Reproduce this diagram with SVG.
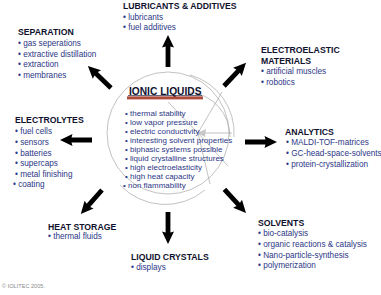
<svg xmlns="http://www.w3.org/2000/svg" width="381" height="295" viewBox="0 0 381 295">
<style>
text{font-family:"Liberation Sans",Arial,sans-serif}
.t{font-weight:bold;font-size:8.7px;fill:#10112e}
.i{font-size:8.2px;fill:#2c3786}
.c{font-size:8px;fill:#2c3786}
.g{fill:none;stroke:#a8a8a8;stroke-width:0.7}
.arr{fill:#000}
</style>
<defs>
<path id="ar" d="M0,-2.4 L20.5,-2.4 L19.5,-6 L32,0 L19.5,6 L20.5,2.4 L0,2.4 Z"/>
</defs>
<rect width="381" height="295" fill="#fff"/>
<g id="graphic">
<circle class="g" cx="168" cy="133" r="61"/>
<path class="g" d="M190,75 A60,60 0 0 1 234,137"/>
<path class="g" d="M190,92 A45,45 0 0 1 230,137"/>
<path class="g" d="M120,185 A62,62 0 0 0 205,190"/>
<line class="g" x1="198" y1="133" x2="222" y2="92"/>
<line class="g" x1="198" y1="133" x2="168" y2="102"/>
<line class="g" x1="198" y1="133" x2="228" y2="166"/>
<line class="g" x1="198" y1="133" x2="210" y2="184"/>
<line class="g" x1="198" y1="133" x2="232" y2="133"/>
<path d="M197,133 L206,129 L205,137 Z" fill="#c8c8c8"/>
</g>
<g id="connectors">
<use href="#ar" class="arr" transform="translate(168,67) rotate(-90)"/>
<use href="#ar" class="arr" transform="translate(224,86) rotate(-46.5)"/>
<use href="#ar" class="arr" transform="translate(245,142)"/>
<use href="#ar" class="arr" transform="translate(224.4,189.3) rotate(47.6)"/>
<use href="#ar" class="arr" transform="translate(168,212) rotate(90)"/>
<use href="#ar" class="arr" transform="translate(102,190) rotate(131.5)"/>
<use href="#ar" class="arr" transform="translate(92,140) rotate(180)"/>
<use href="#ar" class="arr" transform="translate(111,88) rotate(-136.3)"/>
</g>
<g id="ionic-liquids">
<text x="129" y="95" style="font-weight:bold;font-size:10.2px;fill:#10112e">IONIC LIQUIDS</text>
<line x1="128" y1="95.6" x2="202" y2="95.6" stroke="#10112e" stroke-width="0.7"/>
<rect x="127" y="96.4" width="76" height="3" fill="#b04a3c"/>
<text class="c" x="125" y="115.5">• thermal stability</text>
<text class="c" x="125" y="124.6">• low vapor pressure</text>
<text class="c" x="125" y="133.7">• electric conductivity</text>
<text class="c" x="125" y="142.8">• interesting solvent properties</text>
<text class="c" x="125" y="151.9">• biphasic systems possible</text>
<text class="c" x="125" y="161">• liquid crystalline structures</text>
<text class="c" x="125" y="170.1">• high electroelasticity</text>
<text class="c" x="125" y="179.2">• high heat capacity</text>
<text class="c" x="123" y="188.3">• non flammability</text>
</g>
<g id="separation">
<text class="t" x="18" y="35">SEPARATION</text>
<text class="i" x="18" y="46">• gas seperations</text>
<text class="i" x="18" y="56.5">• extractive distillation</text>
<text class="i" x="18" y="67">• extraction</text>
<text class="i" x="18" y="77.5">• membranes</text>
</g>
<g id="lubricants">
<text class="t" x="123" y="9">LUBRICANTS &amp; ADDITIVES</text>
<text class="i" x="123" y="19.5">• lubricants</text>
<text class="i" x="123" y="30">• fuel additives</text>
</g>
<g id="electroelastic">
<text class="t" x="261" y="53">ELECTROELASTIC</text>
<text class="t" x="261" y="63.5">MATERIALS</text>
<text class="i" x="261" y="74">• artificial muscles</text>
<text class="i" x="261" y="84.5">• robotics</text>
</g>
<g id="analytics">
<text class="t" x="285" y="134.5">ANALYTICS</text>
<text class="i" x="286" y="145">• MALDI-TOF-matrices</text>
<text class="i" x="286" y="156">• GC-head-space-solvents</text>
<text class="i" x="286" y="166.5">• protein-crystallization</text>
</g>
<g id="electrolytes">
<text class="t" x="15" y="122.5">ELECTROLYTES</text>
<text class="i" x="15" y="134">• fuel cells</text>
<text class="i" x="15" y="145">• sensors</text>
<text class="i" x="15" y="155.5">• batteries</text>
<text class="i" x="15" y="166">• supercaps</text>
<text class="i" x="15" y="176.5">• metal finishing</text>
<text class="i" x="13" y="186.5">• coating</text>
</g>
<g id="heat-storage">
<text class="t" x="48" y="230">HEAT STORAGE</text>
<text class="i" x="48" y="239">• thermal fluids</text>
</g>
<g id="liquid-crystals">
<text class="t" x="131" y="260">LIQUID CRYSTALS</text>
<text class="i" x="131" y="270">• displays</text>
</g>
<g id="solvents">
<text class="t" x="258" y="226">SOLVENTS</text>
<text class="i" x="258" y="235.5">• bio-catalysis</text>
<text class="i" x="258" y="246.5">• organic reactions &amp; catalysis</text>
<text class="i" x="258" y="257.5">• Nano-particle-synthesis</text>
<text class="i" x="258" y="268">• polymerization</text>
</g>
<text x="2" y="288" style="font-size:5.6px;fill:#8a8a8a">© IOLITEC 2005.</text>
</svg>
